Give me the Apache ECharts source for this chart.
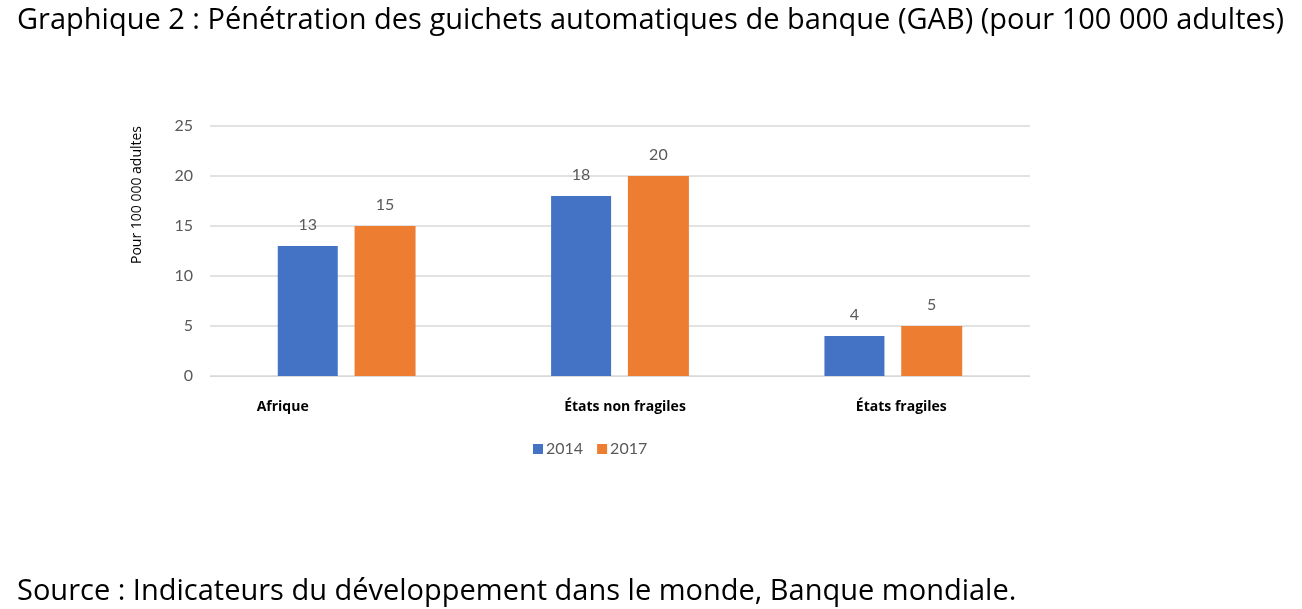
<!DOCTYPE html>
<html>
<head>
<meta charset="utf-8">
<script src="https://cdn.jsdelivr.net/npm/echarts@6/dist/echarts.min.js"></script>
<style>
  html, body { margin: 0; padding: 0; background: #fff; }
  #chart { width: 1302px; height: 609px; }
</style>
</head>
<body>
<div id="chart"></div>
<script>
const categories = ['Afrique', 'États non fragiles', 'États fragiles']
const years = ['2014', '2017']
const values2014 = [13, 18, 4]
const values2017 = [15, 20, 5]
const yTicks = [0, 5, 10, 15, 20, 25]

// labels in the source are not centred on their groups
const labelPad = {
  'Afrique': [0, 128, 0, 0],
  'États non fragiles': [0, 0, 0, 10],
  'États fragiles': [0, 0, 0, 16]
}

const chart = echarts.init(document.getElementById('chart'))

const rich = {}
categories.forEach((c, i) => {
  rich['c' + i] = { fontFamily: 'Open Sans', fontWeight: 'bold', fontSize: 14, color: '#000', padding: labelPad[c] }
})

const barLabel = {
  show: true,
  position: 'top',
  distance: 13,
  color: '#595959',
  fontFamily: 'Lato',
  fontSize: 16
}

const option = {
  animation: false,
  backgroundColor: '#fff',
  title: [
    {
      text: 'Graphique 2 : Pénétration des guichets automatiques de banque (GAB) (pour 100 000 adultes)',
      left: 12,
      top: 1,
      textStyle: { fontFamily: 'Open Sans', fontWeight: 'normal', fontSize: 29, color: '#000' }
    },
    {
      text: 'Source : Indicateurs du développement dans le monde, Banque mondiale.',
      left: 12,
      top: 572,
      textStyle: { fontFamily: 'Open Sans', fontWeight: 'normal', fontSize: 29, color: '#000' }
    }
  ],
  legend: {
    data: years,
    left: 528,
    top: 436,
    itemWidth: 10,
    itemHeight: 10,
    itemGap: 14,
    icon: 'rect',
    textStyle: { fontFamily: 'Lato', fontSize: 16, color: '#595959', padding: [0, 0, 0, -2] }
  },
  grid: { left: 210, right: 272, top: 126, bottom: 233 },
  xAxis: {
    type: 'category',
    data: categories,
    axisLine: { show: true, lineStyle: { color: '#d9d9d9' } },
    axisTick: { show: false },
    axisLabel: {
      margin: 24,
      formatter: (v) => '{c' + categories.indexOf(v) + '|' + v + '}',
      rich
    }
  },
  yAxis: {
    type: 'value',
    min: yTicks[0],
    max: yTicks[yTicks.length - 1],
    interval: 5,
    name: 'Pour 100 000 adultes',
    nameLocation: 'middle',
    nameGap: 66,
    nameRotate: 90,
    nameTextStyle: { fontFamily: 'Open Sans', fontSize: 14, color: '#000', padding: [0, 0, 0, 112] },
    axisLine: { show: false },
    axisTick: { show: false },
    axisLabel: { margin: 17, color: '#595959', fontFamily: 'Lato', fontSize: 16 },
    splitLine: { lineStyle: { color: '#d9d9d9', width: 1.5 } }
  },
  series: [
    {
      name: years[0],
      type: 'bar',
      data: values2014,
      barWidth: 60,
      barGap: '28%',
      itemStyle: { color: '#4472c4' },
      label: barLabel
    },
    {
      name: years[1],
      type: 'bar',
      data: values2017,
      barWidth: 61,
      itemStyle: { color: '#ed7d31' },
      label: barLabel
    }
  ]
}

chart.setOption(option)
</script>
</body>
</html>
